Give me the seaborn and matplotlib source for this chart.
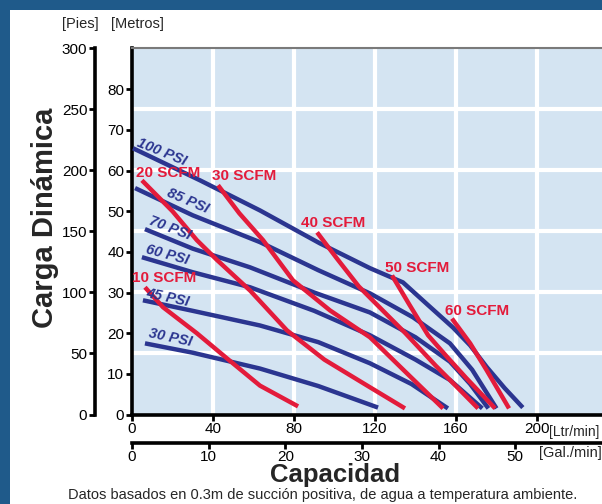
import pandas as pd
import matplotlib
matplotlib.use('Agg')
import matplotlib.pyplot as plt
import seaborn as sns
from matplotlib.patches import Rectangle

### DATA  (x = capacidad en Ltr/min, y = carga en metros)

psi_100_x = [0.5, 33.6, 63.2, 92.8, 117.5, 133.8, 146, 158.5, 167, 175.3, 184, 193]
psi_100_y = [65.5, 57.6, 50.2, 42.1, 36.0, 32.5, 27, 21.4, 17, 11.6, 6.5, 1.7]
psi_85_x = [1.5, 30, 63.2, 92, 117.5, 138.8, 157, 168, 180]
psi_85_y = [55.7, 49, 42.4, 35.5, 29.8, 23.9, 17.5, 11, 1.5]
psi_70_x = [6.4, 30, 58.3, 90, 117.5, 140, 157, 167, 176]
psi_70_y = [45.6, 40.8, 36.2, 30, 25.1, 19, 13, 7.5, 1.5]
psi_60_x = [4.9, 30, 58.3, 90, 117.5, 140, 157, 173]
psi_60_y = [38.7, 35, 31.3, 25.5, 19.5, 13.5, 8.5, 1.5]
psi_45_x = [5.4, 30, 63.2, 92, 117.5, 138, 156]
psi_45_y = [28.1, 25.5, 21.9, 17.8, 12.6, 7.5, 1.5]
psi_30_x = [6.4, 30, 63.2, 92, 121.5]
psi_30_y = [17.5, 15.2, 11.3, 7, 1.7]

scfm_10_x = [6.4, 15.3, 32, 46.9, 63.2, 82]
scfm_10_y = [31.3, 26.4, 20, 13.8, 7.1, 2]
scfm_20_x = [4.9, 20, 32, 42, 58.3, 76.5, 95, 117.5, 134.8]
scfm_20_y = [57.6, 50, 42.9, 38, 30.5, 20.7, 13.5, 6.7, 1.5]
scfm_30_x = [42.5, 53, 64.7, 79.5, 97.8, 117.5, 135, 153.6]
scfm_30_y = [56.4, 49.5, 42.9, 33, 25.6, 19, 10.5, 1.5]
scfm_40_x = [91.4, 101, 112, 120, 135, 150, 160, 170.9]
scfm_40_y = [44.8, 38.5, 31.5, 27.5, 20, 12, 7, 1.5]
scfm_50_x = [128.4, 137, 146.2, 155, 165, 179.3]
scfm_50_y = [34.2, 27, 19.5, 14.5, 9, 1.5]
scfm_60_x = [158, 167, 175, 186.2]
scfm_60_y = [23.6, 17.5, 11, 1.5]

curves = {
    '100 PSI': (psi_100_x, psi_100_y),
    '85 PSI': (psi_85_x, psi_85_y),
    '70 PSI': (psi_70_x, psi_70_y),
    '60 PSI': (psi_60_x, psi_60_y),
    '45 PSI': (psi_45_x, psi_45_y),
    '30 PSI': (psi_30_x, psi_30_y),
    '10 SCFM': (scfm_10_x, scfm_10_y),
    '20 SCFM': (scfm_20_x, scfm_20_y),
    '30 SCFM': (scfm_30_x, scfm_30_y),
    '40 SCFM': (scfm_40_x, scfm_40_y),
    '50 SCFM': (scfm_50_x, scfm_50_y),
    '60 SCFM': (scfm_60_x, scfm_60_y),
}

# label positions (x, y, rotation)
psi_labels = {
    '100 PSI': (14.8, 64.5, -22),
    '85 PSI': (27.7, 52.5, -23),
    '70 PSI': (18.8, 45.8, -21),
    '60 PSI': (17.3, 39.4, -15),
    '45 PSI': (17.8, 28.8, -12),
    '30 PSI': (18.8, 19.0, -12),
}
scfm_labels = {
    '10 SCFM': (15.8, 33.5),
    '20 SCFM': (17.8, 59.4),
    '30 SCFM': (55.3, 58.6),
    '40 SCFM': (99.3, 47.0),
    '50 SCFM': (140.7, 36.0),
    '60 SCFM': (170.4, 25.4),
}

ltr_ticks = [0, 40, 80, 120, 160, 200]
gal_ticks = [0, 10, 20, 30, 40, 50]
metros_ticks = [0, 10, 20, 30, 40, 50, 60, 70, 80]
pies_ticks = [0, 50, 100, 150, 200, 250, 300]

rows = []
for name, (xs, ys) in curves.items():
    for x, y in zip(xs, ys):
        rows.append({'curva': name, 'x': x, 'y': y})
df = pd.DataFrame(rows)

BLUE = '#2B3590'
RED = '#E31B3B'
palette = {n: (RED if 'SCFM' in n else BLUE) for n in curves}

### LAYOUT helpers (pixels -> figure fraction)
W, H = 602, 504
def fx(px):
    return px / W
def fy(py):
    return 1 - py / H

sns.set_style('white')
plt.rcParams['font.family'] = ['Liberation Sans', 'DejaVu Sans']

fig = plt.figure(figsize=(6.02, 5.04), dpi=100, facecolor='#1F5A8A')
fig.add_artist(Rectangle((fx(10), 0), 1, fy(10), transform=fig.transFigure,
                         facecolor='white', edgecolor='none', zorder=-5))

top_px, bot_px, left_px = 48, 414.5, 132
ax_h = (bot_px - top_px) / H
ax_w = fx(602) - fx(left_px)
xmax = (602 - left_px) * 40 / 81
ymax = (bot_px - top_px) / 4.065

ax = fig.add_axes([fx(left_px), fy(bot_px), ax_w, ax_h])
ax.set_facecolor('#D4E4F2')
ax.set_xlim(0, xmax)
ax.set_ylim(0, ymax)

# grid
for v in ltr_ticks[1:]:
    ax.axvline(v, color='white', lw=3, zorder=1)
for p in pies_ticks[1:-1]:
    ax.axhline(p * ymax / 300, color='white', lw=3, zorder=1)

sns.lineplot(data=df, x='x', y='y', hue='curva', palette=palette, sort=False,
             estimator=None, lw=3.2, legend=False, ax=ax, zorder=3,
             solid_joinstyle='round', solid_capstyle='butt')

for name, (x, y, rot) in psi_labels.items():
    ax.text(x, y, name, color=BLUE, fontsize=10.5, fontweight='bold',
            fontstyle='italic', rotation=rot, ha='center', va='center', zorder=4)
for name, (x, y) in scfm_labels.items():
    ax.text(x, y, name, color=RED, fontsize=11, fontweight='bold',
            ha='center', va='center', zorder=4)

ax.set_xticks(ltr_ticks)
ax.set_yticks(metros_ticks)
ax.set_xlabel('')
ax.set_ylabel('')
ax.tick_params(axis='both', direction='out', length=4, width=2, colors='black',
               labelsize=11, pad=1.5, bottom=True, left=True)
ax.spines['left'].set_linewidth(2.6)
ax.spines['left'].set_color('black')
ax.spines['bottom'].set_linewidth(2.6)
ax.spines['bottom'].set_color('black')
ax.spines['top'].set_color('#7A7A7A')
ax.spines['top'].set_linewidth(1.5)
ax.spines['right'].set_visible(False)

# feet axis
axp = fig.add_axes([fx(95), fy(bot_px), 0.0005, ax_h])
axp.patch.set_alpha(0)
axp.set_ylim(0, 300)
axp.set_yticks(pies_ticks)
axp.set_xticks([])
for s in ['top', 'right', 'bottom']:
    axp.spines[s].set_visible(False)
axp.spines['left'].set_linewidth(2.6)
axp.spines['left'].set_color('black')
axp.tick_params(axis='y', direction='out', length=4, width=2, colors='black',
                labelsize=11, pad=1.5, left=True)

# gallons axis
axg = fig.add_axes([fx(left_px), fy(443), ax_w, 0.0005])
axg.patch.set_alpha(0)
axg.set_xlim(0, xmax / 3.7854)
axg.set_xticks(gal_ticks)
axg.set_yticks([])
for s in ['top', 'right', 'left']:
    axg.spines[s].set_visible(False)
axg.spines['bottom'].set_linewidth(2.6)
axg.spines['bottom'].set_color('black')
axg.tick_params(axis='x', direction='out', length=4, width=2, colors='black',
                labelsize=11, pad=1, bottom=True)

# texts
fig.text(fx(80), fy(24), '[Pies]', ha='center', va='center', fontsize=10.5)
fig.text(fx(137), fy(24), '[Metros]', ha='center', va='center', fontsize=10.5)
fig.text(fx(45), fy(218), 'Carga Dinámica', rotation=90, ha='center', va='center',
         fontsize=21, fontweight='bold')
fig.text(fx(335), fy(482), 'Capacidad', ha='center', va='baseline',
         fontsize=18.5, fontweight='bold')
fig.text(fx(323), fy(495), 'Datos basados en 0.3m de succión positiva, de agua a temperatura ambiente.',
         ha='center', va='center', fontsize=10.5)
fig.text(fx(549), fy(432), '[Ltr/min]', ha='left', va='center', fontsize=10)
fig.text(fx(539), fy(453), '[Gal./min]', ha='left', va='center', fontsize=10.5)

fig.savefig('out.png', dpi=100, facecolor=fig.get_facecolor())
